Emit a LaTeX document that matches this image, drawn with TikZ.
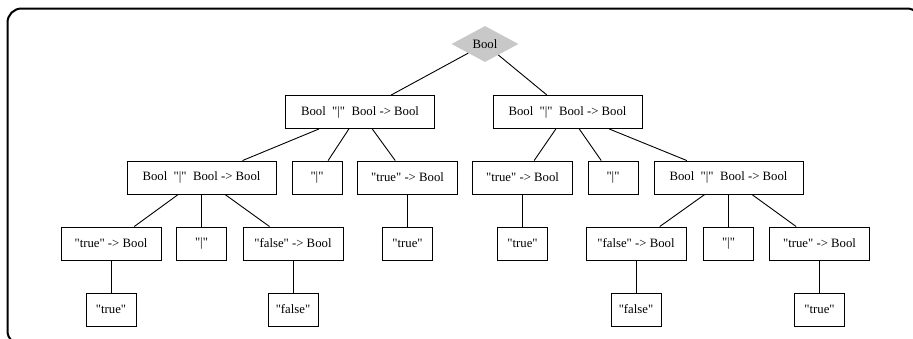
\documentclass[tikz,border=0pt]{standalone}
\usepackage{fontspec}
\setmainfont{Liberation Serif}[Ligatures=TeXOff]
\usetikzlibrary{shapes.geometric}
\definecolor{diagray}{RGB}{200,200,200}
\tikzset{
  tbox/.style={draw, line width=0.9pt, rectangle, inner sep=0pt, minimum height=33pt, font=\fontsize{12.75}{15}\selectfont},
  wide/.style={tbox, minimum width=149pt},
  mid/.style={tbox, minimum width=100pt},
  small/.style={tbox, minimum width=50pt},
  rootnode/.style={diamond, fill=diagray, inner sep=0pt, minimum width=67pt, minimum height=36pt, font=\fontsize{12.75}{15}\selectfont},
  edge/.style={line width=0.9pt},
  frame/.style={line width=2pt}
}
\begin{document}
\begin{tikzpicture}[x=1pt,y=-1pt]
\useasboundingbox (0,0) rectangle (913,338);
\begin{scope}
\clip (0,0) rectangle (913,338);
\draw[frame, rounded corners=14pt] (7.5,8.5) rectangle (921,345);
\end{scope}
\node[rootnode] (root) at (485,44) {Bool};
\node[wide] (a) at (360,112) {Bool~~"|"~~Bool -> Bool};
\node[wide] (b) at (567.5,112) {Bool~~"|"~~Bool -> Bool};
\node[wide] (a1) at (201.5,177.5) {Bool~~"|"~~Bool -> Bool};
\node[small] (a2) at (317,177.5) {"|"};
\node[mid] (a3) at (407.5,177.5) {"true" -> Bool};
\node[mid] (b1) at (522.5,177.5) {"true" -> Bool};
\node[small] (b2) at (613,177.5) {"|"};
\node[wide] (b3) at (728.5,177.5) {Bool~~"|"~~Bool -> Bool};
\node[mid] (a11) at (111,243.5) {"true" -> Bool};
\node[small] (a12) at (201.5,243.5) {"|"};
\node[mid] (a13) at (293,243.5) {"false" -> Bool};
\node[small] (a31) at (407.5,243.5) {"true"};
\node[small] (b11) at (522.5,243.5) {"true"};
\node[mid] (b31) at (636,243.5) {"false" -> Bool};
\node[small] (b32) at (728.5,243.5) {"|"};
\node[mid] (b33) at (819.5,243.5) {"true" -> Bool};
\node[small] (a111) at (111,309.5) {"true"};
\node[small] (a131) at (293,309.5) {"false"};
\node[small] (b311) at (636,309.5) {"false"};
\node[small] (b331) at (819.5,309.5) {"true"};
\draw[edge] (root) -- (a);
\draw[edge] (root) -- (b);
\draw[edge] (a) -- (a1);
\draw[edge] (a) -- (a2);
\draw[edge] (a) -- (a3);
\draw[edge] (b) -- (b1);
\draw[edge] (b) -- (b2);
\draw[edge] (b) -- (b3);
\draw[edge] (a1) -- (a11);
\draw[edge] (a1) -- (a12);
\draw[edge] (a1) -- (a13);
\draw[edge] (a3) -- (a31);
\draw[edge] (b1) -- (b11);
\draw[edge] (b3) -- (b31);
\draw[edge] (b3) -- (b32);
\draw[edge] (b3) -- (b33);
\draw[edge] (a11) -- (a111);
\draw[edge] (a13) -- (a131);
\draw[edge] (b31) -- (b311);
\draw[edge] (b33) -- (b331);
\end{tikzpicture}
\end{document}
